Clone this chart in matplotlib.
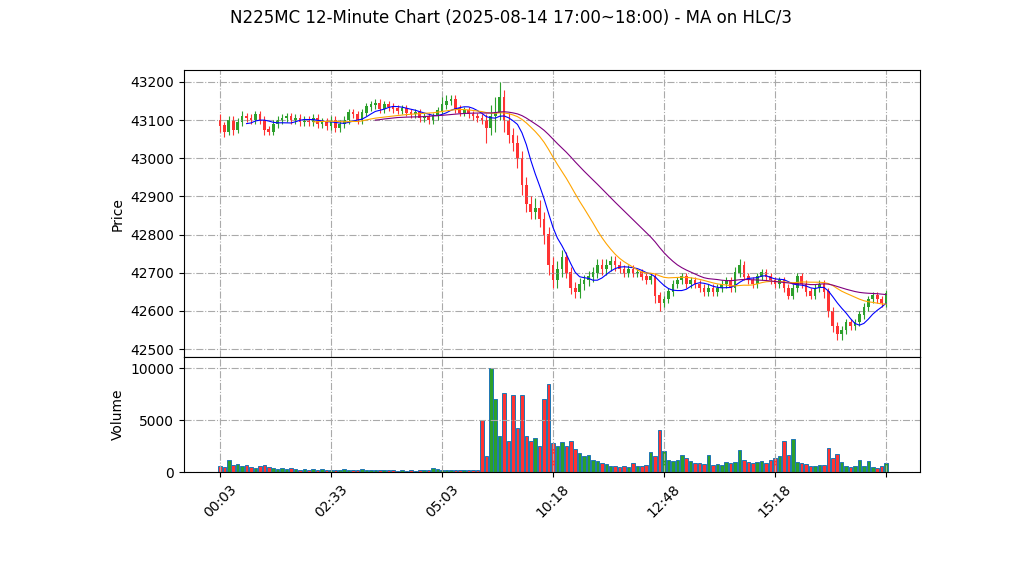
import numpy as np
import pandas as pd
import matplotlib
matplotlib.use("Agg")
import matplotlib.pyplot as plt

closes = [43085,43070,43100,43075,43095,43110,43105,43100,43115,43100,
          43075,43070,43090,43100,43105,43110,43100,43105,43095,43100,
          43095,43105,43090,43095,43085,43100,43080,43090,43100,43120,
          43115,43100,43120,43135,43140,43145,43130,43140,43135,43130,
          43125,43130,43120,43115,43120,43105,43110,43100,43110,43125,
          43140,43150,43155,43130,43120,43125,43115,43110,43105,43100,
          43080,43110,43120,43160,43100,43060,43040,43000,42930,42880,
          42860,42870,42840,42800,42720,42680,42710,42740,42700,42660,
          42650,42670,42680,42690,42700,42720,42710,42720,42730,42720,
          42710,42700,42710,42700,42700,42690,42680,42690,42640,42620,
          42630,42650,42670,42680,42690,42670,42680,42670,42660,42650,
          42660,42650,42660,42670,42680,42660,42700,42720,42690,42680,
          42670,42690,42700,42690,42680,42670,42680,42660,42640,42660,
          42690,42670,42650,42640,42660,42670,42650,42600,42560,42540,
          42550,42570,42560,42570,42590,42610,42630,42640,42630,42620,42645]
first_open = 43100
wick_up = [15,10,10,10,10,15,10,10,10,10, 10,10,10,10,10,10,10,10,10,10,
           10,10,10,10,10,10,10,10,10,10, 10,10,10,10,10,10,10,10,10,10,
           10,10,10,10,10,10,10,10,10,10, 20,15,10,10,10,10,10,10,10,10,
           15,30,40,40,20,20,20,20,20,20, 20,25,20,20,20,20,20,20,15,15,
           15,15,15,15,15,15,15,15,15,15, 10,10,10,10,10,10,10,10,10,10,
           10,10,10,10,10,10,10,10,10,10, 10,10,10,10,10,10,15,15,10,10,
           10,10,10,10,10,10,10,10,10,10, 10,10,10,10,10,10,10,10,10,10,
           10,10,10,10,10,10,10,10,10,10,10]
wick_dn = [15,15,10,15,10,10,10,10,10,10, 15,10,10,10,10,10,10,10,10,10,
           10,10,10,10,10,10,10,10,10,10, 10,10,10,10,10,10,10,10,10,10,
           10,10,10,10,10,10,10,10,10,10, 10,10,10,10,10,10,10,10,10,10,
           40,20,40,20,30,20,20,25,25,20, 20,20,20,25,25,20,20,20,15,15,
           15,15,15,15,15,15,15,15,15,15, 10,10,10,10,10,10,10,10,20,20,
           10,10,10,10,10,10,10,10,10,10, 10,10,10,10,10,10,10,10,10,10,
           10,10,10,10,10,10,10,10,10,10, 10,10,10,10,10,10,15,15,15,15,
           15,10,10,10,10,10,10,10,10,10,10]
volume = [600,500,1200,700,800,600,700,500,400,600,
          700,500,400,300,400,300,400,300,200,300,
          200,300,200,300,200,200,200,200,300,200,
          200,200,300,200,200,200,200,200,200,200,
          150,200,150,200,150,200,200,200,400,300,
          200,200,200,200,200,200,200,200,200,5000,
          1500,10000,7000,3500,7600,3000,7400,4200,7400,3500,
          3000,3300,2500,7000,8500,2800,2500,2900,2500,3000,
          2200,1800,1500,1600,1200,1100,900,800,600,600,
          500,600,500,900,600,600,700,1900,1500,4000,
          2000,1200,1100,1200,1600,1400,1100,900,900,800,
          1600,700,800,700,1000,900,1000,2100,1200,1000,
          900,1000,1100,900,1200,1400,1500,3000,1600,3200,
          1000,900,800,600,600,700,700,2300,1400,1700,
          1000,600,500,600,1200,600,1100,500,400,600,900]
tick_labels = ["00:03", "02:33", "05:03", "10:18", "12:48", "15:18", ""]
ma_periods = [7, 22, 36]
ma_colors = ["blue", "orange", "purple"]

c = np.array(closes, float)
o = np.concatenate([[first_open], c[:-1]])
h = np.maximum(o, c) + np.array(wick_up)
l = np.minimum(o, c) - np.array(wick_dn)
x = np.arange(len(c))
up = c >= o
cols = np.where(up, "#2ca02c", "#ff3333")

fig = plt.figure(figsize=(10.22, 5.75), dpi=100)
ax1 = fig.add_axes([0.18, 0.379, 0.72, 0.499])
ax2 = fig.add_axes([0.18, 0.179, 0.72, 0.2], sharex=ax1)

ax1.vlines(x, l, h, colors=cols, linewidth=0.8)
ax1.bar(x, np.abs(c - o) + 1, bottom=np.minimum(o, c), width=0.6, color=cols)
hlc3 = pd.Series((h + l + c) / 3)
for p, col in zip(ma_periods, ma_colors):
    ax1.plot(x, hlc3.rolling(p).mean(), color=col, linewidth=0.8)
ax1.set_ylabel("Price")
ax1.set_ylim(42479, 43231)
ax1.set_yticks(np.arange(42500, 43201, 100))
ax1.grid(True, linestyle="-.", color="#aaaaaa")
plt.setp(ax1.get_xticklabels(), visible=False)

ax2.bar(x, volume, width=0.8, color=cols, edgecolor="#1f77b4", linewidth=0.7)
ax2.set_ylabel("Volume")
ax2.set_ylim(0, 11060)
ax2.set_yticks([0, 5000, 10000])
ax2.grid(True, linestyle="-.", color="#aaaaaa")
ax2.set_xlim(-8.1, 157.6)
ax2.set_xticks(np.arange(0, 151, 25))
ax2.set_xticklabels(tick_labels, rotation=45)

fig.suptitle("N225MC 12-Minute Chart (2025-08-14 17:00~18:00) - MA on HLC/3", y=0.985, fontsize=12)
fig.savefig("out.png", dpi=100)
